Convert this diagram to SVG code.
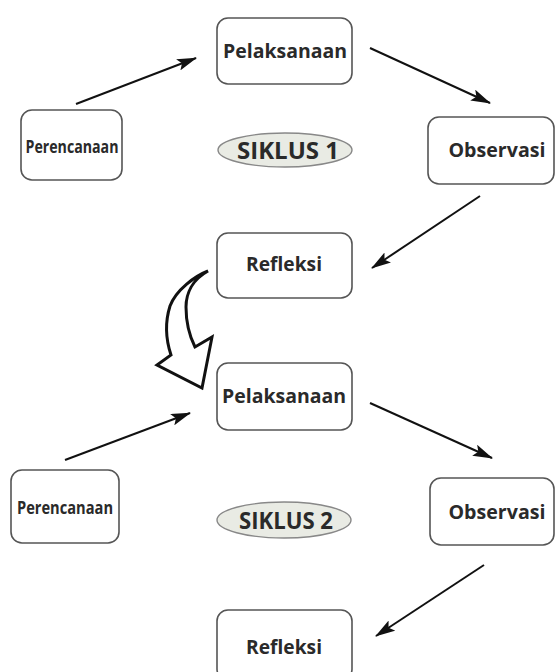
<svg xmlns="http://www.w3.org/2000/svg" width="555" height="672" viewBox="0 0 555 672">
<style>
.box{fill:#fff;stroke:#555;stroke-width:1.6}
.lbl{font-family:"Open Sans","Noto Sans",sans-serif;font-weight:bold;fill:#2a2a2a;text-anchor:middle;dominant-baseline:central}
.ell{fill:#e9ebe4;stroke:#888;stroke-width:1.4}
.con{stroke:#111;stroke-width:2;fill:none;marker-end:url(#ah)}
</style>
<defs>
<marker id="ah" viewBox="0 0 20 12" refX="19" refY="6" markerWidth="20" markerHeight="12" markerUnits="userSpaceOnUse" orient="auto">
<path d="M0,0 L20,6 L0,12 L4,6 Z" fill="#111"/>
</marker>
</defs>
<rect width="555" height="672" fill="#fff"/>
<g id="connectors">
<line class="con" x1="76" y1="104" x2="196" y2="58"/>
<line class="con" x1="370" y1="48" x2="490" y2="103"/>
<line class="con" x1="480" y1="196" x2="372" y2="268"/>
<line class="con" x1="65" y1="460" x2="190" y2="413"/>
<line class="con" x1="370" y1="403" x2="492" y2="458"/>
<line class="con" x1="484" y1="565" x2="376" y2="636"/>
<path id="bigarrow" d="M208,271 C195,276 176,290 170,306 C165,322 166,340 171,355 L157,365 L202,388 L212,337 L195,347 C189,335 186,322 186,307 C186,294 192,280 208,271 Z" fill="#fff" stroke="#111" stroke-width="3" stroke-linejoin="miter"/>
</g>
<g id="pelaksanaan1"><rect class="box" x="217" y="18" width="135" height="66" rx="11"/><text class="lbl" x="285" y="51" font-size="19" textLength="124" lengthAdjust="spacingAndGlyphs">Pelaksanaan</text></g>
<g id="perencanaan1"><rect class="box" x="21" y="110" width="101" height="70" rx="11"/><text class="lbl" x="72" y="146" font-size="18" textLength="93" lengthAdjust="spacingAndGlyphs">Perencanaan</text></g>
<g id="siklus1"><ellipse class="ell" cx="285" cy="150" rx="67" ry="17"/><text class="lbl" x="288" y="150" font-size="23" textLength="102" lengthAdjust="spacingAndGlyphs">SIKLUS 1</text></g>
<g id="observasi1"><rect class="box" x="428" y="117" width="126" height="67" rx="11"/><text class="lbl" x="497" y="150" font-size="19" textLength="97" lengthAdjust="spacingAndGlyphs">Observasi</text></g>
<g id="refleksi1"><rect class="box" x="217" y="233" width="135" height="65" rx="11"/><text class="lbl" x="284" y="264" font-size="19" textLength="76" lengthAdjust="spacingAndGlyphs">Refleksi</text></g>
<g id="pelaksanaan2"><rect class="box" x="217" y="363" width="135" height="67" rx="11"/><text class="lbl" x="284" y="396" font-size="19" textLength="124" lengthAdjust="spacingAndGlyphs">Pelaksanaan</text></g>
<g id="perencanaan2"><rect class="box" x="11" y="470" width="108" height="73" rx="11"/><text class="lbl" x="65" y="507" font-size="18" textLength="96" lengthAdjust="spacingAndGlyphs">Perencanaan</text></g>
<g id="siklus2"><ellipse class="ell" cx="284" cy="520" rx="67" ry="18"/><text class="lbl" x="286" y="520" font-size="23" textLength="94" lengthAdjust="spacingAndGlyphs">SIKLUS 2</text></g>
<g id="observasi2"><rect class="box" x="430" y="478" width="124" height="67" rx="11"/><text class="lbl" x="497" y="512" font-size="19" textLength="97" lengthAdjust="spacingAndGlyphs">Observasi</text></g>
<g id="refleksi2"><rect class="box" x="217" y="610" width="135" height="70" rx="11"/><text class="lbl" x="284" y="647" font-size="19" textLength="76" lengthAdjust="spacingAndGlyphs">Refleksi</text></g>
</svg>
